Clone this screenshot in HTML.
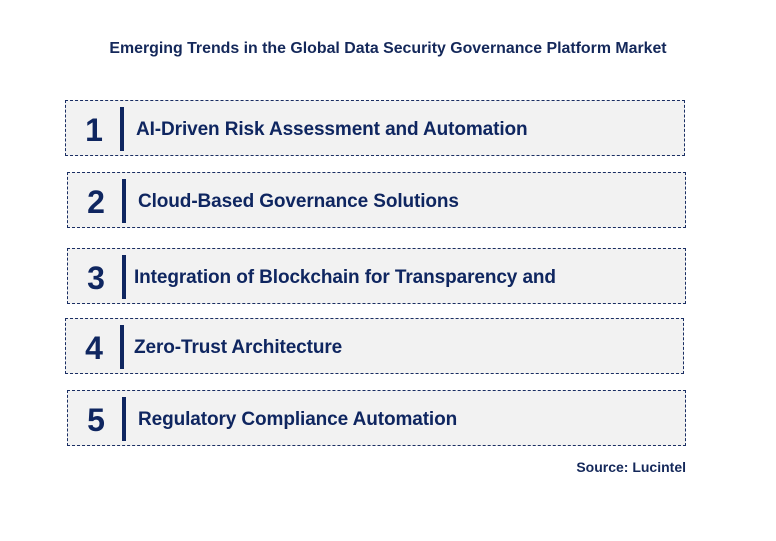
<!DOCTYPE html>
<html><head><style>
body{margin:0;width:776px;height:541px;background:#fff;position:relative;font-family:"Liberation Sans",Arial,sans-serif;overflow:hidden}
.t{position:absolute;left:0;width:776px;top:40px;text-align:center;font-weight:bold;font-size:15.9px;color:#14285a;box-sizing:border-box}
.box{position:absolute;background:#f2f2f2;border:1px dashed #1a2e63;box-sizing:border-box;height:56px}
.num{position:absolute;left:0;width:56px;top:11px;text-align:center;font-weight:bold;font-size:32px;color:#0f2660}
.bar{position:absolute;left:54px;top:6px;width:4px;height:44px;background:#0f2660}
.lab{position:absolute;left:70px;top:18px;font-weight:bold;font-size:19px;color:#0f2660;letter-spacing:-0.1px;white-space:nowrap}
.src{position:absolute;right:90px;top:459px;font-weight:bold;font-size:14px;color:#14285a}
</style></head><body>
<div class="t">Emerging Trends in the Global Data Security Governance Platform Market</div>
<div class="box" style="left:65px;top:100px;width:620px"><div class="num">1</div><div class="bar"></div><div class="lab">AI-Driven Risk Assessment and Automation</div></div>
<div class="box" style="left:67px;top:172px;width:619px"><div class="num">2</div><div class="bar"></div><div class="lab">Cloud-Based Governance Solutions</div></div>
<div class="box" style="left:67px;top:248px;width:619px"><div class="num">3</div><div class="bar"></div><div class="lab" style="left:66px">Integration of Blockchain for Transparency and</div></div>
<div class="box" style="left:65px;top:318px;width:619px"><div class="num">4</div><div class="bar"></div><div class="lab" style="left:68px">Zero-Trust Architecture</div></div>
<div class="box" style="left:67px;top:390px;width:619px"><div class="num">5</div><div class="bar"></div><div class="lab">Regulatory Compliance Automation</div></div>
<div class="src">Source: Lucintel</div>
</body></html>
